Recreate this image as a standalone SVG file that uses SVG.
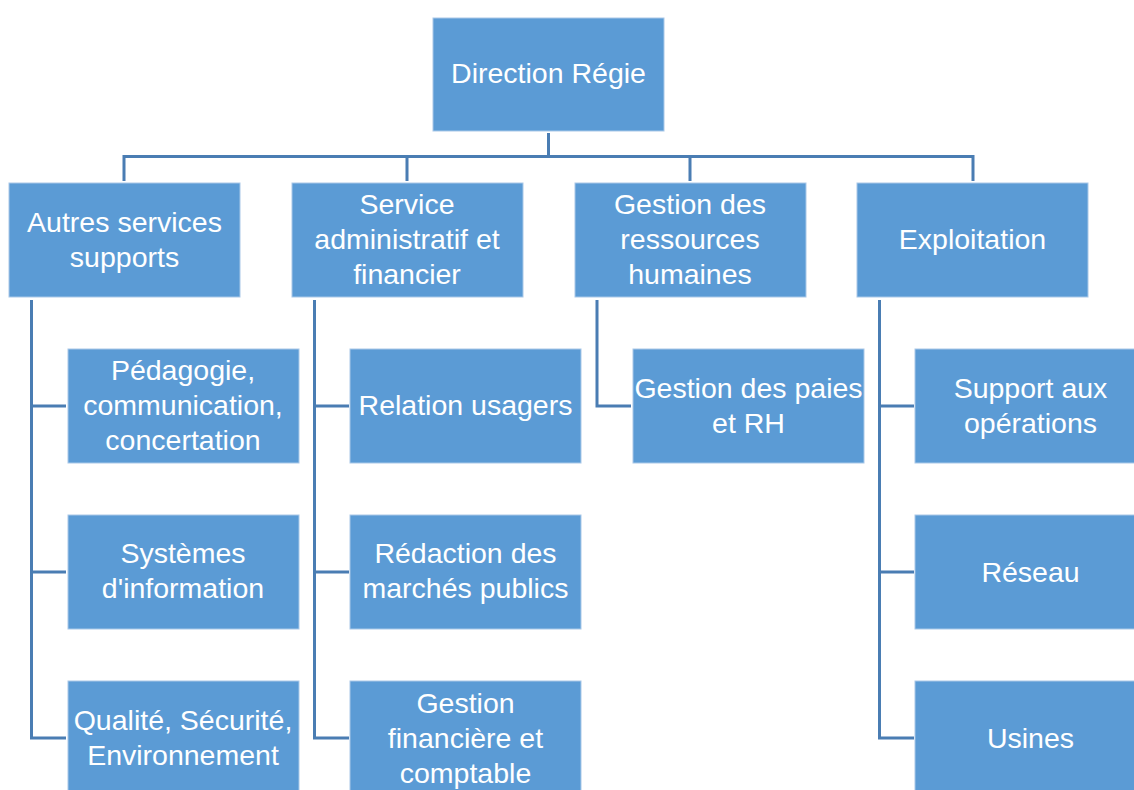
<svg xmlns="http://www.w3.org/2000/svg" width="1134" height="790" viewBox="0 0 1134 790">
<style>
.box{fill:#5B9BD5;stroke:#A9C8E8;stroke-width:1}
.t{font-family:"Liberation Sans",Arial,sans-serif;font-size:28.5px;fill:#ffffff;text-anchor:middle}
.c{fill:none;stroke:#4A7DB3;stroke-width:3}
</style>
<rect width="1134" height="790" fill="#ffffff"/>
<g id="connectors">
<path class="c" d="M548.5 133V156.5M124 156.5H973M124 155V181M407 155V181M690 155V181M973 155V181"/>
<path class="c" d="M31.5 300V738H66M31.5 406H66M31.5 572H66"/>
<path class="c" d="M314.5 300V738H349M314.5 406H349M314.5 572H349"/>
<path class="c" d="M597 300V406H631"/>
<path class="c" d="M879.5 300V738H914M879.5 406H914M879.5 572H914"/>
</g>
<g id="n-direction"><rect class="box" x="433" y="18" width="231" height="113"/><text class="t" x="548.5" y="83">Direction Régie</text></g>
<g id="n-autres"><rect class="box" x="9" y="183" width="231" height="114"/><text class="t" x="124.5" y="232">Autres services</text><text class="t" x="124.5" y="267">supports</text></g>
<g id="n-saf"><rect class="box" x="292" y="183" width="231" height="114"/><text class="t" x="407" y="214">Service</text><text class="t" x="407" y="249">administratif et</text><text class="t" x="407" y="284">financier</text></g>
<g id="n-grh"><rect class="box" x="575" y="183" width="231" height="114"/><text class="t" x="690" y="214">Gestion des</text><text class="t" x="690" y="249">ressources</text><text class="t" x="690" y="284">humaines</text></g>
<g id="n-exploitation"><rect class="box" x="857" y="183" width="231" height="114"/><text class="t" x="972.5" y="249">Exploitation</text></g>
<g id="n-pedagogie"><rect class="box" x="68" y="349" width="231" height="114"/><text class="t" x="183" y="380">Pédagogie,</text><text class="t" x="183" y="415">communication,</text><text class="t" x="183" y="450">concertation</text></g>
<g id="n-si"><rect class="box" x="68" y="515" width="231" height="114"/><text class="t" x="183" y="563">Systèmes</text><text class="t" x="183" y="598">d'information</text></g>
<g id="n-qse"><rect class="box" x="68" y="681" width="231" height="114"/><text class="t" x="183" y="730">Qualité, Sécurité,</text><text class="t" x="183" y="765">Environnement</text></g>
<g id="n-relation"><rect class="box" x="350" y="349" width="231" height="114"/><text class="t" x="465.5" y="415">Relation usagers</text></g>
<g id="n-marches"><rect class="box" x="350" y="515" width="231" height="114"/><text class="t" x="465.5" y="563">Rédaction des</text><text class="t" x="465.5" y="598">marchés publics</text></g>
<g id="n-gfc"><rect class="box" x="350" y="681" width="231" height="114"/><text class="t" x="465.5" y="713">Gestion</text><text class="t" x="465.5" y="748">financière et</text><text class="t" x="465.5" y="783">comptable</text></g>
<g id="n-paies"><rect class="box" x="633" y="349" width="231" height="114"/><text class="t" x="748.5" y="398">Gestion des paies</text><text class="t" x="748.5" y="433">et RH</text></g>
<g id="n-support"><rect class="box" x="915" y="349" width="231" height="114"/><text class="t" x="1030.5" y="398">Support aux</text><text class="t" x="1030.5" y="433">opérations</text></g>
<g id="n-reseau"><rect class="box" x="915" y="515" width="231" height="114"/><text class="t" x="1030.5" y="582">Réseau</text></g>
<g id="n-usines"><rect class="box" x="915" y="681" width="231" height="114"/><text class="t" x="1030.5" y="748">Usines</text></g>
</svg>
